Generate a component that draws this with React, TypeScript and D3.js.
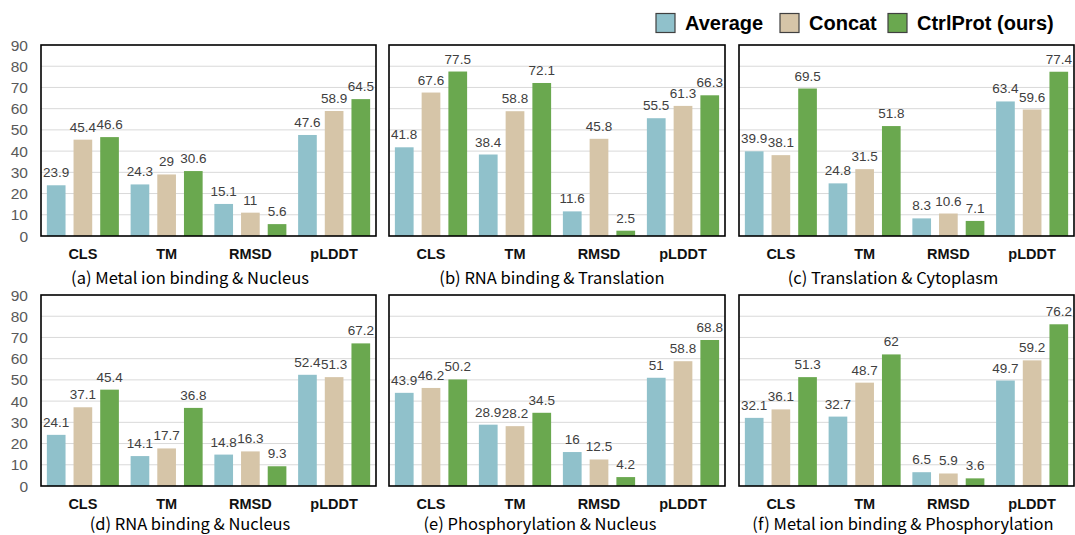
import React from 'react';
import * as d3 from 'd3';

const categories = ['CLS', 'TM', 'RMSD', 'pLDDT'];
const seriesNames = ['Average', 'Concat', 'CtrlProt (ours)'];
const seriesColors = ['#90c1cb', '#d6c5a8', '#6aa84f'];
const yTicks = [0, 10, 20, 30, 40, 50, 60, 70, 80, 90];

const panelTitles = [
  '(a) Metal ion binding & Nucleus',
  '(b) RNA binding & Translation',
  '(c) Translation & Cytoplasm',
  '(d) RNA binding & Nucleus',
  '(e) Phosphorylation & Nucleus',
  '(f) Metal ion binding & Phosphorylation',
];

// values per panel, per category (CLS, TM, RMSD, pLDDT)
const averageValues = [
  [23.9, 24.3, 15.1, 47.6],
  [41.8, 38.4, 11.6, 55.5],
  [39.9, 24.8, 8.3, 63.4],
  [24.1, 14.1, 14.8, 52.4],
  [43.9, 28.9, 16, 51],
  [32.1, 32.7, 6.5, 49.7],
];
const concatValues = [
  [45.4, 29, 11, 58.9],
  [67.6, 58.8, 45.8, 61.3],
  [38.1, 31.5, 10.6, 59.6],
  [37.1, 17.7, 16.3, 51.3],
  [46.2, 28.2, 12.5, 58.8],
  [36.1, 48.7, 5.9, 59.2],
];
const ctrlProtValues = [
  [46.6, 30.6, 5.6, 64.5],
  [77.5, 72.1, 2.5, 66.3],
  [69.5, 51.8, 7.1, 77.4],
  [45.4, 36.8, 9.3, 67.2],
  [50.2, 34.5, 4.2, 68.8],
  [51.3, 62, 3.6, 76.2],
];

const W = 1075;
const H = 535;
const colX: [number, number][] = [
  [41, 376],
  [389, 725],
  [739, 1074],
];
const rowY: [number, number][] = [
  [45, 236],
  [295, 486],
];
const subtitleX = [190, 552, 893, 190, 540, 903];
const subtitleOffset = [42, 38];

const valueFont = "'Liberation Sans', Arial, sans-serif";
const subtitleFont = "'Noto Sans CJK SC', 'Noto Sans', sans-serif";

function Panel({ index }: { index: number }) {
  const col = index % 3;
  const row = Math.floor(index / 3);
  const [x0, x1] = colX[col];
  const [y0, y1] = rowY[row];
  const x = d3.scaleBand<string>().domain(categories).range([x0, x1]).padding(0);
  const xs = d3
    .scaleBand<number>()
    .domain([0, 1, 2])
    .range([0, x.bandwidth()])
    .paddingInner(0.3)
    .paddingOuter(0.22);
  const y = d3.scaleLinear().domain([0, 90]).range([y1, y0]);
  const series = [averageValues[index], concatValues[index], ctrlProtValues[index]];

  return (
    <g>
      {yTicks
        .filter((t) => t > 0 && t < 90)
        .map((t) => (
          <line key={t} x1={x0} x2={x1} y1={y(t)} y2={y(t)} stroke="#d9d9d9" strokeWidth={1} />
        ))}
      {col === 0 &&
        yTicks.map((t) => (
          <text
            key={'yt' + t}
            x={x0 - 13}
            y={y(t)}
            dy="0.36em"
            textAnchor="end"
            style={{ fontFamily: valueFont }}
            fontSize={15.5}
            fill="#595959"
          >
            {t}
          </text>
        ))}
      {categories.map((c, ci) =>
        series.map((vals, si) => {
          const v = vals[ci];
          const bx = (x(c) as number) + (xs(si) as number);
          return (
            <g key={c + si}>
              <rect
                x={bx}
                y={y(v)}
                width={xs.bandwidth()}
                height={y(0) - y(v)}
                fill={seriesColors[si]}
              />
              <text
                x={bx + xs.bandwidth() / 2}
                y={y(v) - 8}
                textAnchor="middle"
                style={{ fontFamily: valueFont }}
                fontSize={13.5}
                fill="#404040"
              >
                {v}
              </text>
            </g>
          );
        })
      )}
      <rect x={x0} y={y0} width={x1 - x0} height={y1 - y0} fill="none" stroke="#000" strokeWidth={1.6} />
      {categories.map((c) => (
        <text
          key={'cat' + c}
          x={(x(c) as number) + x.bandwidth() / 2}
          y={y1 + 18}
          dy="0.36em"
          textAnchor="middle"
          style={{ fontFamily: valueFont }}
          fontWeight="bold"
          fontSize={14.5}
          fill="#111"
        >
          {c}
        </text>
      ))}
      <text
        x={subtitleX[index]}
        y={y1 + subtitleOffset[row]}
        dy="0.36em"
        textAnchor="middle"
        style={{ fontFamily: subtitleFont }}
        fontSize={16.5}
        fill="#000"
      >
        {panelTitles[index]}
      </text>
    </g>
  );
}

const legendX = [656, 780, 888];

export default function App() {
  return (
    <svg
      width={W}
      height={H}
      viewBox={`0 0 ${W} ${H}`}
      style={{ position: 'absolute', left: 0, top: 0, background: '#fff' }}
    >
      <rect x={0} y={0} width={W} height={H} fill="#fff" />
      {panelTitles.map((_, i) => (
        <Panel key={i} index={i} />
      ))}
      {seriesNames.map((s, i) => (
        <g key={s}>
          <rect
            x={legendX[i]}
            y={13.5}
            width={19}
            height={19}
            fill={seriesColors[i]}
            stroke="#404040"
            strokeWidth={1.2}
          />
          <text
            x={legendX[i] + 29}
            y={23}
            dy="0.36em"
            style={{ fontFamily: valueFont }}
            fontWeight="bold"
            fontSize={20}
            fill="#000"
          >
            {s}
          </text>
        </g>
      ))}
    </svg>
  );
}
